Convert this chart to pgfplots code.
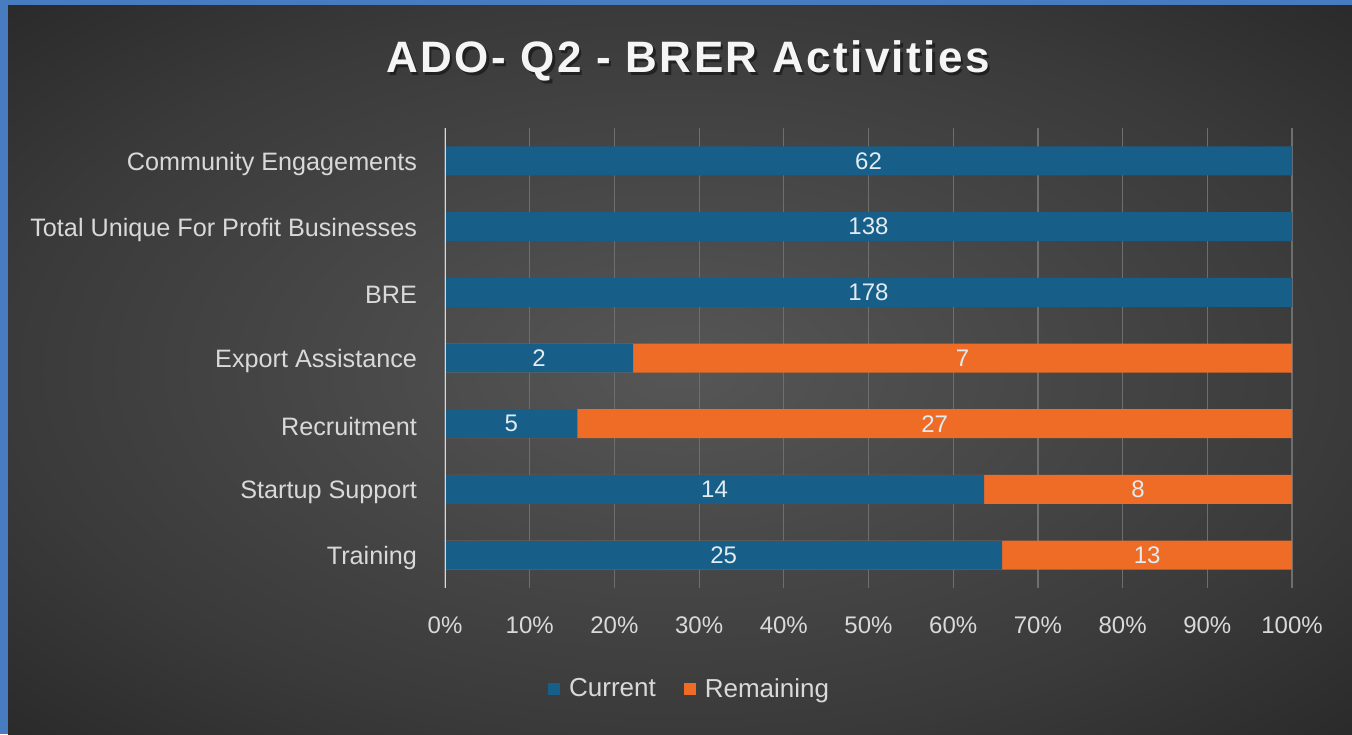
\documentclass[border=0pt]{standalone}
\usepackage{fontspec}
\setmainfont{Liberation Sans}
\usepackage{pgfplots}
\pgfplotsset{compat=1.18}
\usepackage{pgfplotstable}
\definecolor{frameblue}{RGB}{72,124,192}
\definecolor{curblue}{RGB}{23,94,136}
\definecolor{remorange}{RGB}{238,108,38}
\definecolor{lbl}{RGB}{217,217,217}
\definecolor{dlbl}{RGB}{225,235,242}
\definecolor{gridc}{RGB}{110,110,110}
\definecolor{bgA}{RGB}{86,86,86}
\definecolor{bgB}{RGB}{58,58,58}
\definecolor{bgC}{RGB}{40,40,40}
\pgfdeclareradialshading{bgshade}{\pgfpoint{0bp}{0bp}}{color(0bp)=(bgA); color(25bp)=(bgB); color(37bp)=(bgC); color(50bp)=(bgC)}

\pgfplotstableread{
pos cur rem
6 62 0
5 138 0
4 178 0
3 2 7
2 5 27
1 14 8
0 25 13
}\datatable

\begin{document}
\begin{tikzpicture}
\path[use as bounding box] (0pt,0pt) rectangle (676pt,-367pt);
\fill[frameblue] (0pt,0pt) rectangle (676pt,-367pt);
\shade[shading=bgshade] (4pt,-2.5pt) rectangle (676pt,-367pt);
\node[text=black, opacity=0.45, font={\fontsize{22}{26}\selectfont\bfseries\addfontfeatures{LetterSpace=5.5}}] at (345.2pt,-31.7pt) {ADO- Q2 - BRER Activities};
\node[text=white!96!black, font={\fontsize{22}{26}\selectfont\bfseries\addfontfeatures{LetterSpace=5.5}}] at (344pt,-30.5pt) {ADO- Q2 - BRER Activities};
\begin{axis}[
  at={(222.5pt,-294pt)}, anchor=south west,
  scale only axis, width=423.5pt, height=230pt,
  xmin=0, xmax=100, ymin=-0.5, ymax=6.5,
  bar width=14.5pt, bar shift=0pt,
  xtick={0,10,...,100},
  xticklabel={\pgfmathprintnumber{\tick}\%},
  ytick={0,...,6},
  yticklabels={Training, Startup Support, Recruitment, Export Assistance, BRE, Total Unique For Profit Businesses, Community Engagements},
  xmajorgrids, major grid style={gridc, line width=0.6pt},
  axis line style={draw=none},
  tick style={draw=none}, major tick length=0pt,
  /pgf/number format/assume math mode=true,
  ticklabel style={text=lbl},
  xticklabel style={font={\fontsize{12}{14}\selectfont}, yshift=-11pt},
  yticklabel style={font={\fontsize{12.6}{15}\selectfont}, xshift=-10.5pt, yshift=-1.5pt},
  legend columns=2,
  legend style={at={(0.29,-0.22)}, anchor=center, draw=none, fill=none, text=lbl,
    font={\fontsize{13}{15}\selectfont},
    /tikz/every even column/.append style={column sep=12pt}},
  legend image code/.code={\fill (0pt,-3pt) rectangle (6pt,3pt);},
]
\addlegendimage{fill=curblue, draw=none}
\addlegendentry{\hspace{2.5pt}Current}
\addlegendimage{fill=remorange, draw=none}
\addlegendentry{\hspace{2.5pt}Remaining}
\addplot[xbar, fill=remorange, draw=none, forget plot,
  skip coords between index={0}{3}]
  table[y=pos, x expr=100] {\datatable};
\addplot[xbar, fill=curblue, draw=none, forget plot]
  table[y=pos, x expr=100*\thisrow{cur}/(\thisrow{cur}+\thisrow{rem})] {\datatable};
\addplot[forget plot, draw=none, mark=none, nodes near coords, point meta=explicit symbolic,
  nodes near coords style={anchor=center, text=dlbl, font={\fontsize{12}{14}\selectfont}}]
  table[y=pos, x expr=50*\thisrow{cur}/(\thisrow{cur}+\thisrow{rem}), meta=cur] {\datatable};
\addplot[forget plot, draw=none, mark=none, nodes near coords, point meta=explicit symbolic,
  skip coords between index={0}{3},
  nodes near coords style={anchor=center, text=dlbl, font={\fontsize{12}{14}\selectfont}}]
  table[y=pos, x expr=50+50*\thisrow{cur}/(\thisrow{cur}+\thisrow{rem}), meta=rem] {\datatable};
\draw[lbl, line width=1pt] (axis cs:0,-0.5) -- (axis cs:0,6.5);
\end{axis}
\end{tikzpicture}
\end{document}
